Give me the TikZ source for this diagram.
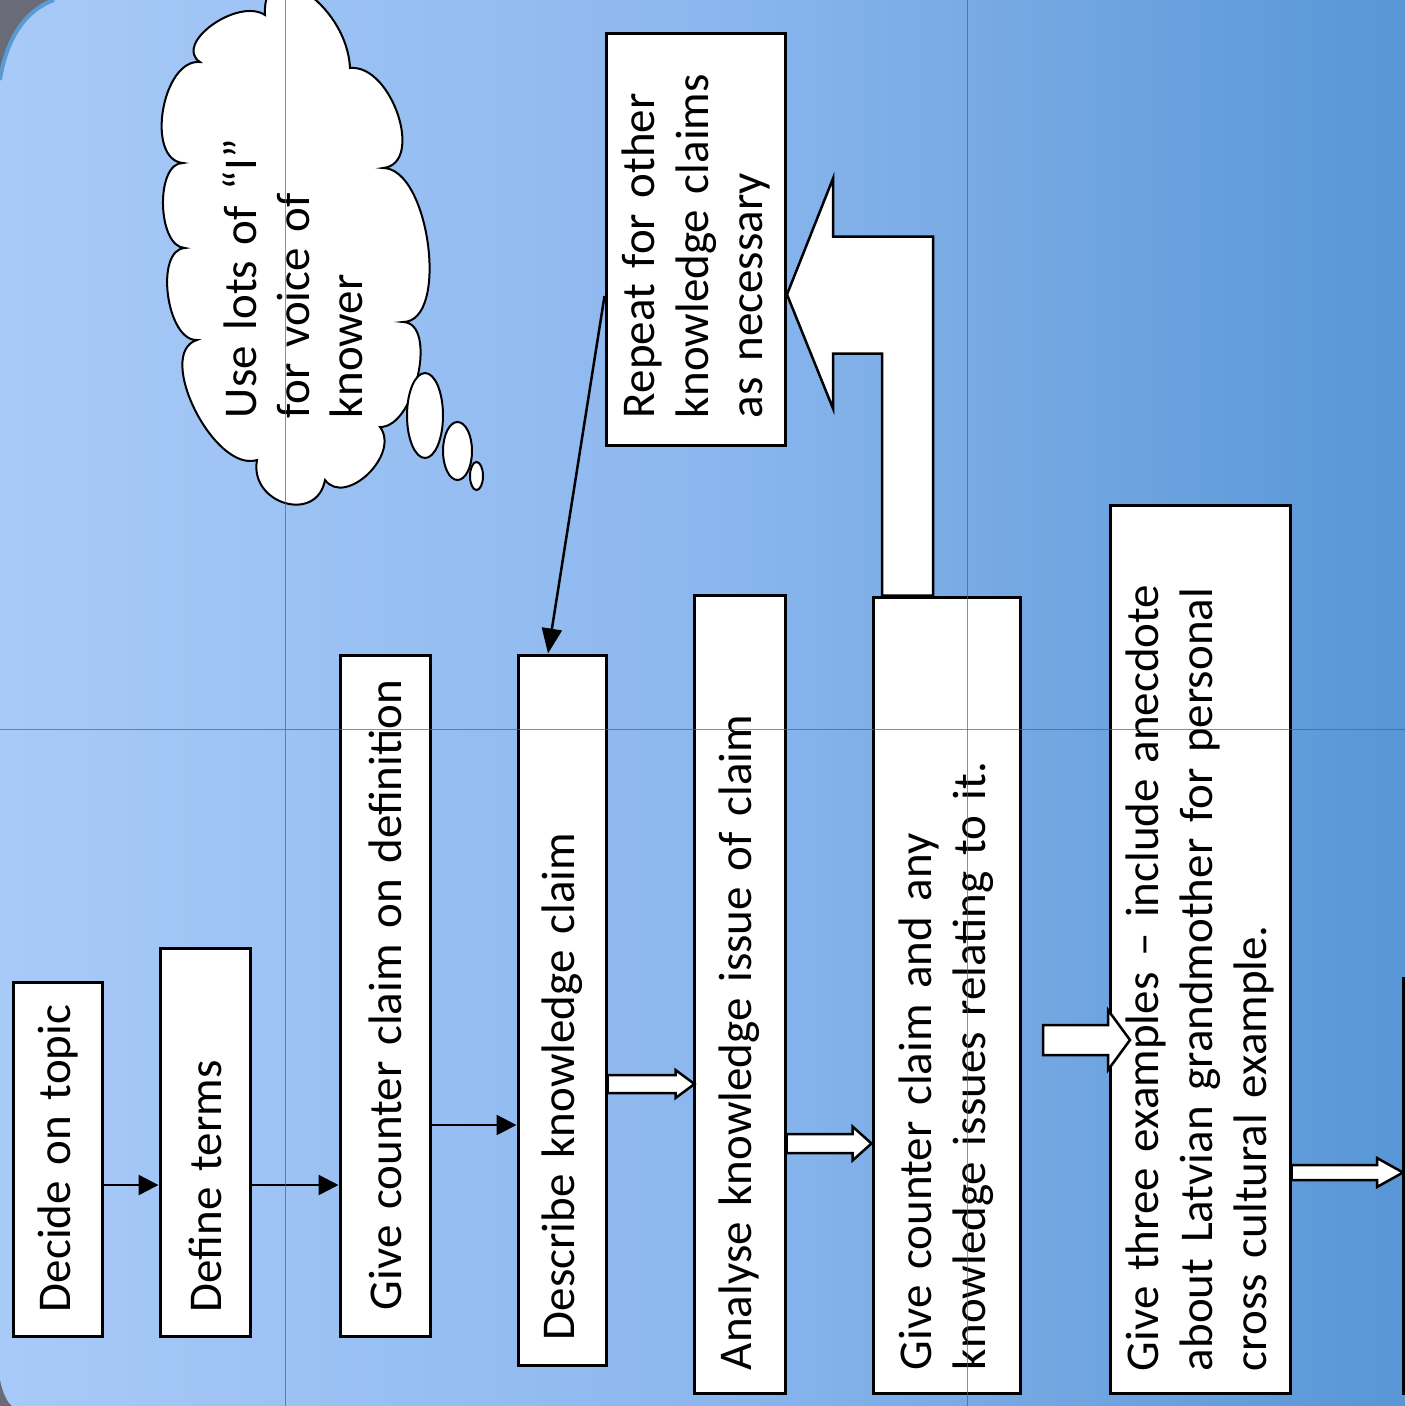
\documentclass[tikz,border=0pt]{standalone}
\usepackage{fontspec}
\setmainfont{Carlito}
\usetikzlibrary{arrows.meta}

\definecolor{bgleft}{RGB}{168,202,248}
\definecolor{bgmid}{RGB}{140,183,238}
\definecolor{bgright}{RGB}{88,150,214}
\definecolor{framegray}{RGB}{105,108,118}
\definecolor{rimblue}{RGB}{91,155,213}
\definecolor{guidegray}{RGB}{90,95,105}

\tikzset{
  stepbox/.style={draw, fill=white, line width=3pt, rotate=90, inner sep=0pt,
    align=left, font=\fontsize{47}{54}\selectfont},
  fat/.style={draw, fill=white, line width=2.5pt},
  link/.style={->, line width=2.5pt},
  bubble/.style={draw, fill=white, line width=2pt},
  guide/.style={draw=guidegray, line width=1pt, opacity=.7},
}

\begin{document}
\begin{tikzpicture}[x=1pt, y=-1pt, >={Triangle[length=20pt, width=20pt]}]
    \useasboundingbox (0,0) rectangle (1405,1406);
    \clip (0,0) rectangle (1405,1406);
    \shade[left color=bgleft, right color=bgright, middle color=bgmid] (0,0) rectangle (1405,1406);
    % corners of the slide frame
    \fill[framegray] (0,0) -- (54,0) .. controls (25,10) and (6,40) .. (0,80) -- cycle;
    \draw[rimblue, line width=4pt] (54,0) .. controls (25,10) and (6,40) .. (0,80);
    \fill[framegray] (0,1380) .. controls (3,1395) and (8,1403) .. (12,1406) -- (0,1406) -- cycle;

    \node[stepbox, minimum width=354pt, minimum height=89pt, text width=306pt] (decide) at (57.5,1159) {\mbox{Decide on topic}};
    \node[stepbox, minimum width=388pt, minimum height=90pt, text width=340pt] (define) at (205,1142) {Define terms};
    \node[stepbox, minimum width=681pt, minimum height=90pt, text width=629pt] (counter1) at (385,995.5) {\mbox{Give counter claim on definition}};
    \node[stepbox, minimum width=710pt, minimum height=88pt, text width=660pt] (describe) at (562,1010) {Describe knowledge claim};
    \node[stepbox, minimum width=798pt, minimum height=91pt, text width=752pt] (analyse) at (739.5,994) {Analyse knowledge issue of claim};
    \node[stepbox, minimum width=796pt, minimum height=147pt, text width=750pt] (counter2) at (946.5,995)
        {Give counter claim and any\\knowledge issues relating to it.};
    \node[stepbox, minimum width=888pt, minimum height=180pt, text width=844pt] (examples) at (1200,949)
        {Give three examples -- include anecdote\\about Latvian grandmother for personal\\cross cultural example.};
    \node[stepbox, minimum width=412pt, minimum height=179pt, text width=358pt] (repeat) at (695.5,239)
        {Repeat for other\\knowledge claims\\as necessary};
    \node[stepbox, minimum width=415pt, minimum height=80pt] (nextstep) at (1443,1185.5) {};

    % thought bubble
    \draw[bubble] (265,15) .. controls (237.7,-3) and (172.7,44) .. (200,62)
        .. controls (162,58.7) and (145,159.7) .. (183,163)
        .. controls (155,162.3) and (157,247.3) .. (185,248)
        .. controls (154.3,249.3) and (166.3,341.3) .. (197,340)
        .. controls (154.3,353.3) and (214.3,473.3) .. (257,460)
        .. controls (249,504) and (317,524) .. (325,480)
        .. controls (345.7,507.3) and (400.7,454.3) .. (380,427)
        .. controls (415.3,427.7) and (438.3,322.7) .. (403,322)
        .. controls (449.7,322) and (429.7,168) .. (383,168)
        .. controls (425,164) and (392,64) .. (350,68)
        .. controls (346.7,2) and (261.7,-51) .. (265,15) -- cycle;
    \draw[bubble] (425,415.5) ellipse [x radius=18pt, y radius=42.5pt];
    \draw[bubble] (457.5,451) ellipse [x radius=14.5pt, y radius=29pt];
    \draw[bubble] (476.5,476) ellipse [x radius=6.5pt, y radius=14pt];
    \node[rotate=90, text width=336pt, align=left, inner sep=0pt,
        font=\fontsize{47}{53}\selectfont] (thoughttext) at (293,250) {Use lots of ``I''\\for voice of\\knower};

    \draw[link] ([yshift=-26pt]decide.south) -- ([yshift=-43pt]define.north);
    \draw[link] ([yshift=-43pt]define.south) -- ([yshift=-189.5pt]counter1.north);
    \draw[link] ([yshift=-129.5pt]counter1.south) -- ([yshift=-115pt]describe.north);
    \draw[line width=2.5pt, -{Triangle[length=25pt, width=20pt]}] ([yshift=-57pt]repeat.north) -- ([xshift=-14pt]describe.east);

    \draw[fat] ([yshift=-74pt]describe.south) ++(0,-9) -- ++(68,0) -- ++(0,-5) -- ++(19,14)
        -- ++(-19,14) -- ++(0,-5) -- ++(-68,0) -- cycle;
    \draw[fat] ([yshift=-149.5pt]analyse.south) ++(0,-9.5) -- ++(66,0) -- ++(0,-7.5) -- ++(19,17)
        -- ++(-19,17) -- ++(0,-7.5) -- ++(-66,0) -- cycle;
    \coordinate (gap) at (1043,1040);
    \draw[fat] (gap) ++(0,-15) -- ++(65,0) -- ++(0,-15) -- ++(22,30) -- ++(-22,30) -- ++(0,-15)
        -- ++(-65,0) -- cycle;
    \draw[fat] ([yshift=-223.5pt]examples.south) ++(0,-7.5) -- ++(85.5,0) -- ++(0,-7) -- ++(26,14.5)
        -- ++(-26,14.5) -- ++(0,-7) -- ++(-85.5,0) -- cycle;
    \draw[fat] ([xshift=-64.5pt]counter2.east) -- ++(0,-242) -- ++(-49,0) -- ++(0,55) -- ++(-46,-114)
        -- ++(46,-116) -- ++(0,58) -- ++(100,0) -- ++(0,359) -- cycle;

    % guides
    \draw[guide] (285,0) -- (285,1406);
    \draw[guide] (967,0) -- (967,1406);
    \draw[guide] (0,729) -- (1405,729);
\end{tikzpicture}
\end{document}
